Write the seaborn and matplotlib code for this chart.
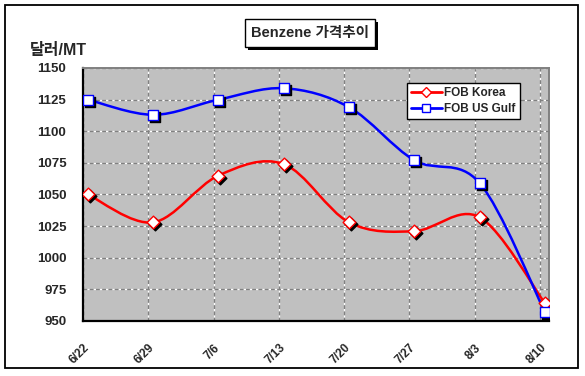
import numpy as np
import pandas as pd
import matplotlib
matplotlib.use("Agg")
import matplotlib.pyplot as plt
import seaborn as sns
from matplotlib.path import Path
from matplotlib.patches import PathPatch, Rectangle
from matplotlib.lines import Line2D
import matplotlib.transforms as mtransforms

dates = ["6/22", "6/29", "7/6", "7/13", "7/20", "7/27", "8/3", "8/10"]
fob_korea = [1050, 1028, 1065, 1074, 1028, 1021, 1032, 964]
fob_us_gulf = [1125, 1113, 1125, 1134, 1119, 1077, 1059, 957]
yticks = [950, 975, 1000, 1025, 1050, 1075, 1100, 1125, 1150]
title = "Benzene 가격추이"
ylabel = "달러/MT"
series_names = ["FOB Korea", "FOB US Gulf"]

sns.set_theme(style="white")
plt.rcParams['font.family'] = ['Liberation Sans', 'Noto Sans CJK KR', 'DejaVu Sans']
plt.rcParams['font.weight'] = 'bold'

W, H = 585, 376
fig = plt.figure(figsize=(W / 100, H / 100), dpi=100)
fig.patch.set_facecolor("white")

def fx(px):
    return px / W

def fy(py):
    return 1 - py / H

# outer frame
fig.patches.append(Rectangle((fx(5), fy(368)), fx(573), 363 / H, transform=fig.transFigure,
                             fill=False, edgecolor="black", linewidth=1.3))

ax = fig.add_axes([fx(83), fy(321), fx(466), 253 / H])
ax.set_facecolor("#C0C0C0")

x_idx = np.arange(len(dates))
off = 0.075
xm = x_idx + off

df = pd.DataFrame({"x": np.concatenate([xm, xm]),
                   "y": fob_korea + fob_us_gulf,
                   "series": [series_names[0]] * len(dates) + [series_names[1]] * len(dates)})

def smooth_path(xs, ys):
    pts = np.column_stack([xs, ys]).astype(float)
    n = len(pts)
    verts = [pts[0]]
    codes = [Path.MOVETO]
    for i in range(n - 1):
        p0 = pts[i - 1] if i > 0 else pts[i]
        p1 = pts[i]
        p2 = pts[i + 1]
        p3 = pts[i + 2] if i + 2 < n else pts[i + 1]
        c1 = p1 + (p2 - p0) / 6.0
        c2 = p2 - (p3 - p1) / 6.0
        verts += [c1, c2, p2]
        codes += [Path.CURVE4] * 3
    return Path(verts, codes)

colors = ["#FF0000", "#0000FF"]
markers = ["D", "s"]
msizes = [42, 42]

for name, vals, c in zip(series_names, [fob_korea, fob_us_gulf], colors):
    ax.add_patch(PathPatch(smooth_path(xm, vals), facecolor="none", edgecolor=c,
                           linewidth=1.8, zorder=3))

shadow = mtransforms.offset_copy(ax.transData, fig=fig, x=2, y=-2, units="dots")
for name, c, m, s in zip(series_names, colors, markers, msizes):
    sub = df[df.series == name]
    ax.scatter(sub.x, sub.y, marker=m, s=s, color="black", edgecolor="black",
               linewidth=1.0, transform=shadow, zorder=4)
    sns.scatterplot(data=sub, x="x", y="y", marker=m, s=s, color="white",
                    edgecolor=c, linewidth=1.0, ax=ax, zorder=5, legend=False)

ax.set_xlim(0, 7.137)
ax.set_ylim(950, 1150)
ax.set_xticks(x_idx)
ax.set_xticklabels(dates, rotation=45, ha="right", va="top", rotation_mode="anchor",
                   fontsize=8.5, fontweight="bold")
ax.set_yticks(yticks)
ax.set_yticklabels([str(v) for v in yticks], fontsize=9.5, fontweight="bold")
ax.tick_params(axis="x", length=0, pad=15)
ax.tick_params(axis="y", length=0, pad=12)
ax.set_xlabel("")
ax.set_ylabel("")

ax.grid(True, color="#808080", linestyle=(0, (3, 2)), gapcolor="white", linewidth=0.9)
ax.set_axisbelow(True)

for side in ["left", "bottom"]:
    ax.spines[side].set_color("black")
    ax.spines[side].set_linewidth(1.6)
for side in ["top", "right"]:
    ax.spines[side].set_color("#808080")
    ax.spines[side].set_linewidth(1.4)

# legend
handles = [Line2D([0], [0], color=colors[0], marker="D", markersize=5.5, markerfacecolor="white",
                  markeredgecolor=colors[0], linewidth=2),
           Line2D([0], [0], color=colors[1], marker="s", markersize=6, markerfacecolor="white",
                  markeredgecolor=colors[1], linewidth=2)]
leg = ax.legend(handles, series_names, loc="upper left",
                bbox_to_anchor=((407 - 83) / 466, 1 - (83 - 68) / 253),
                frameon=True, fancybox=False, framealpha=1, edgecolor="black",
                prop={"size": 8.5, "weight": "bold"}, handlelength=2.6, handletextpad=0.2,
                borderpad=0.35, labelspacing=0.35, borderaxespad=0)
leg.get_frame().set_linewidth(1.0)

# title with shadowed box
fig.patches.append(Rectangle((fx(248), fy(50)), fx(130), 28 / H, transform=fig.transFigure,
                             facecolor="black", edgecolor="none", zorder=1))
fig.patches.append(Rectangle((fx(245), fy(47)), fx(130), 28 / H, transform=fig.transFigure,
                             facecolor="white", edgecolor="black", linewidth=1.0, zorder=2))
fig.text(fx(310), fy(33.5), title, ha="center", va="center", fontsize=10.5, fontweight="bold",
         zorder=5)

fig.text(fx(30), fy(51), ylabel, ha="left", va="center", fontsize=11.5, fontweight="bold")

fig.savefig("out.png", dpi=100, facecolor="white")
